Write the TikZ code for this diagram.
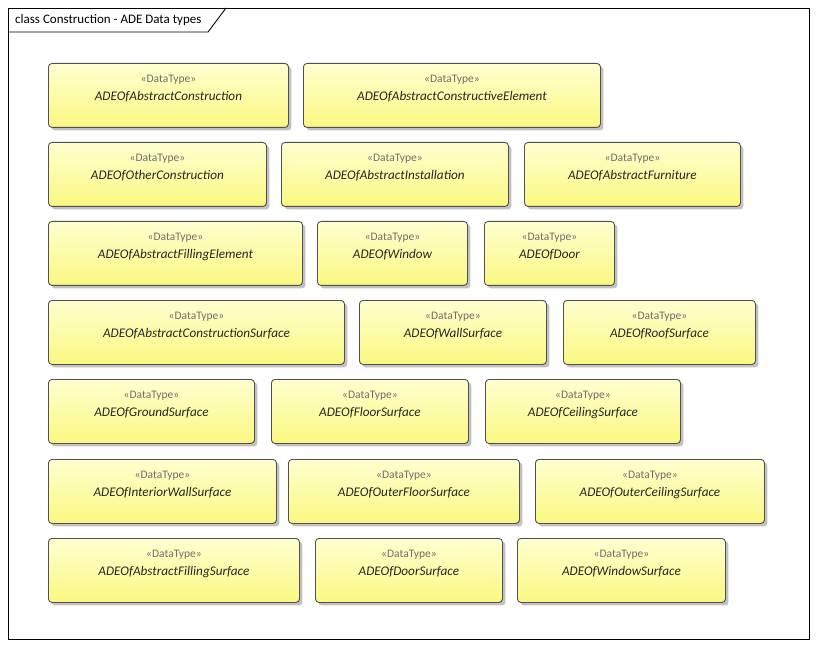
\documentclass[tikz,border=0pt]{standalone}
\usepackage{fontspec}
\setmainfont{Carlito}
\usetikzlibrary{shadows,calc}
\definecolor{dttop}{RGB}{255,255,208}
\definecolor{dtbot}{RGB}{250,248,128}
\definecolor{dtedge}{RGB}{80,80,80}
\definecolor{stgray}{RGB}{110,110,110}
\tikzset{
  dtbox/.style={draw=dtedge, line width=0.9pt, rounded corners=3.5pt,
    top color=dttop, bottom color=dtbot, inner sep=0pt,
    drop shadow={shadow xshift=3pt, shadow yshift=-3pt, fill=black!30, opacity=0.8}},
  stereo/.style={font=\fontsize{11.5}{13}\selectfont, text=stgray, inner sep=0pt},
  dtname/.style={font=\fontsize{13.2}{15}\selectfont\itshape, text=black!85, inner sep=0pt},
  frameline/.style={draw=black, line width=0.9pt},
}
\newcommand\dtype[5]{%
  \node[dtbox, anchor=north west, minimum width={(#4-#2)*1pt}, minimum height=64pt] (#1) at (#2,#3) {};
  \node[stereo] (#1-st) at ($(#1.north)+(0,16.5)$) {«DataType»};
  \node[dtname] (#1-nm) at ($(#1.north)+(0,34)$) {#5};
}
\begin{document}
\begin{tikzpicture}[x=1pt,y=-1pt]
\useasboundingbox[fill=white] (0,0) rectangle (817,647);
\draw[frameline] (8,8) rectangle (809,639);
\draw[frameline] (8,32) -- (208,32) -- (226,8);
\node[anchor=west, inner sep=0pt, font=\fontsize{13}{15}\selectfont] (title) at (15,20) {class Construction - ADE Data types};
% row 1
\dtype{a1}{48}{63}{288}{ADEOfAbstractConstruction}
\dtype{a2}{303}{63}{600}{ADEOfAbstractConstructiveElement}
% row 2
\dtype{b1}{48}{142}{266}{ADEOfOtherConstruction}
\dtype{b2}{281}{142}{508}{ADEOfAbstractInstallation}
\dtype{b3}{524}{142}{740}{ADEOfAbstractFurniture}
% row 3
\dtype{c1}{48}{221}{302}{ADEOfAbstractFillingElement}
\dtype{c2}{317}{221}{467}{ADEOfWindow}
\dtype{c3}{484}{221}{614}{ADEOfDoor}
% row 4
\dtype{d1}{48}{300}{344}{ADEOfAbstractConstructionSurface}
\dtype{d2}{359}{300}{546}{ADEOfWallSurface}
\dtype{d3}{563}{300}{755}{ADEOfRoofSurface}
% row 5
\dtype{e1}{48}{379}{254}{ADEOfGroundSurface}
\dtype{e2}{271}{379}{468}{ADEOfFloorSurface}
\dtype{e3}{485}{379}{680}{ADEOfCeilingSurface}
% row 6
\dtype{f1}{48}{459}{276}{ADEOfInteriorWallSurface}
\dtype{f2}{288}{459}{519}{ADEOfOuterFloorSurface}
\dtype{f3}{535}{459}{764}{ADEOfOuterCeilingSurface}
% row 7
\dtype{g1}{48}{538}{299}{ADEOfAbstractFillingSurface}
\dtype{g2}{315}{538}{502}{ADEOfDoorSurface}
\dtype{g3}{517}{538}{725}{ADEOfWindowSurface}
\end{tikzpicture}
\end{document}
